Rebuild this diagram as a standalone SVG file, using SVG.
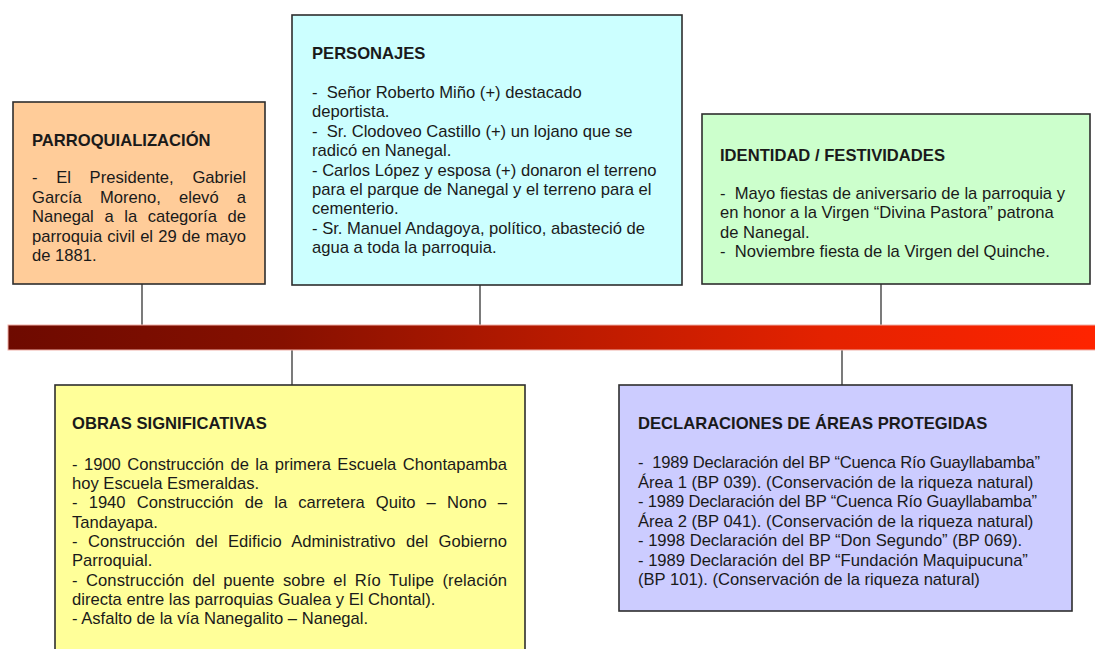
<svg xmlns="http://www.w3.org/2000/svg" width="1095" height="649" viewBox="0 0 1095 649">
<style>
.box{stroke:#2e2e2e;stroke-width:1.6}
.t{font-family:"Liberation Sans",Arial,sans-serif;font-size:16.6px;font-weight:bold;fill:#1a1a1a}
.b{font-family:"Liberation Sans",Arial,sans-serif;font-size:16.6px;fill:#1a1a1a}
.c{stroke:#333;stroke-width:1.3;fill:none}
</style>
<defs>
<linearGradient id="bar" x1="0" y1="0" x2="1" y2="0">
<stop offset="0" stop-color="#6E0A00"/>
<stop offset="0.25" stop-color="#861000"/>
<stop offset="0.5" stop-color="#B81A00"/>
<stop offset="0.75" stop-color="#E42200"/>
<stop offset="1" stop-color="#FF2400"/>
</linearGradient>
</defs>
<rect width="1095" height="649" fill="#fff"/>
<g id="connectors">
<line class="c" x1="142" y1="284" x2="142" y2="326"/>
<line class="c" x1="480" y1="285" x2="480" y2="326"/>
<line class="c" x1="881" y1="284" x2="881" y2="326" stroke="#666"/>
<line class="c" x1="292" y1="350" x2="292" y2="385" stroke="#777"/>
<line class="c" x1="842" y1="350" x2="842" y2="385"/>
</g>
<g id="timeline">
<rect x="8" y="325" width="1090" height="25" fill="url(#bar)" stroke="#F0B0A8" stroke-width="1"/>
</g>
<g id="parroquializacion">
<rect class="box" x="13" y="102" width="252" height="182" fill="#FFCC99"/>
<text class="t" x="32" y="146">PARROQUIALIZACIÓN</text>
<text class="b" x="32" y="183" word-spacing="14" textLength="214" lengthAdjust="spacing">- El Presidente, Gabriel</text>
<text class="b" x="32" y="202.5" word-spacing="13.5" textLength="214" lengthAdjust="spacing">García Moreno, elevó a</text>
<text class="b" x="32" y="222" word-spacing="6" textLength="214" lengthAdjust="spacing">Nanegal a la categoría de</text>
<text class="b" x="32" y="241.5" word-spacing="0.5" textLength="214" lengthAdjust="spacing">parroquia civil el 29 de mayo</text>
<text class="b" x="32" y="261">de 1881.</text>
</g>
<g id="personajes">
<rect class="box" x="292" y="15" width="390" height="270" fill="#CCFFFF"/>
<text class="t" x="312" y="59">PERSONAJES</text>
<text class="b" x="312" y="98">-&#160; Señor Roberto Miño (+) destacado</text>
<text class="b" x="312" y="117.4">deportista.</text>
<text class="b" x="312" y="136.8">-&#160; Sr. Clodoveo Castillo (+) un lojano que se</text>
<text class="b" x="312" y="156.2">radicó en Nanegal.</text>
<text class="b" x="312" y="175.6">- Carlos López y esposa (+) donaron el terreno</text>
<text class="b" x="312" y="195">para el parque de Nanegal y el terreno para el</text>
<text class="b" x="312" y="214.4">cementerio.</text>
<text class="b" x="312" y="233.8">- Sr. Manuel Andagoya, político, abasteció de</text>
<text class="b" x="312" y="253.2">agua a toda la parroquia.</text>
</g>
<g id="identidad">
<rect class="box" x="702" y="114" width="388" height="170" fill="#CCFFCC"/>
<text class="t" x="720" y="161">IDENTIDAD / FESTIVIDADES</text>
<text class="b" x="720" y="198.5">-&#160; Mayo fiestas de aniversario de la parroquia y</text>
<text class="b" x="720" y="218">en honor a la Virgen “Divina Pastora” patrona</text>
<text class="b" x="720" y="237.5">de Nanegal.</text>
<text class="b" x="720" y="257">-&#160; Noviembre fiesta de la Virgen del Quinche.</text>
</g>
<g id="obras">
<rect class="box" x="55" y="385" width="470" height="280" fill="#FFFF99"/>
<text class="t" x="72" y="429">OBRAS SIGNIFICATIVAS</text>
<text class="b" x="72" y="469.5" word-spacing="1.8" textLength="435" lengthAdjust="spacing">- 1900 Construcción de la primera Escuela Chontapamba</text>
<text class="b" x="72" y="488.9">hoy Escuela Esmeraldas.</text>
<text class="b" x="72" y="508.2" word-spacing="6.5" textLength="435" lengthAdjust="spacing">- 1940 Construcción de la carretera Quito – Nono –</text>
<text class="b" x="72" y="527.6">Tandayapa.</text>
<text class="b" x="72" y="546.9" word-spacing="5.8" textLength="435" lengthAdjust="spacing">- Construcción del Edificio Administrativo del Gobierno</text>
<text class="b" x="72" y="566.3">Parroquial.</text>
<text class="b" x="72" y="585.6" word-spacing="3.5" textLength="435" lengthAdjust="spacing">- Construcción del puente sobre el Río Tulipe (relación</text>
<text class="b" x="72" y="605">directa entre las parroquias Gualea y El Chontal).</text>
<text class="b" x="72" y="624.3">- Asfalto de la vía Nanegalito – Nanegal.</text>
</g>
<g id="declaraciones">
<rect class="box" x="619" y="385" width="453" height="226" fill="#CCCCFF"/>
<text class="t" x="638" y="429">DECLARACIONES DE ÁREAS PROTEGIDAS</text>
<text class="b" x="638" y="468" textLength="402" lengthAdjust="spacing">-&#160; 1989 Declaración del BP “Cuenca Río Guayllabamba”</text>
<text class="b" x="638" y="487.5">Área 1 (BP 039). (Conservación de la riqueza natural)</text>
<text class="b" x="638" y="507" textLength="399" lengthAdjust="spacing">- 1989 Declaración del BP “Cuenca Río Guayllabamba”</text>
<text class="b" x="638" y="526.5">Área 2 (BP 041). (Conservación de la riqueza natural)</text>
<text class="b" x="638" y="546">- 1998 Declaración del BP “Don Segundo” (BP 069).</text>
<text class="b" x="638" y="565.5">- 1989 Declaración del BP “Fundación Maquipucuna”</text>
<text class="b" x="638" y="585">(BP 101). (Conservación de la riqueza natural)</text>
</g>
</svg>
